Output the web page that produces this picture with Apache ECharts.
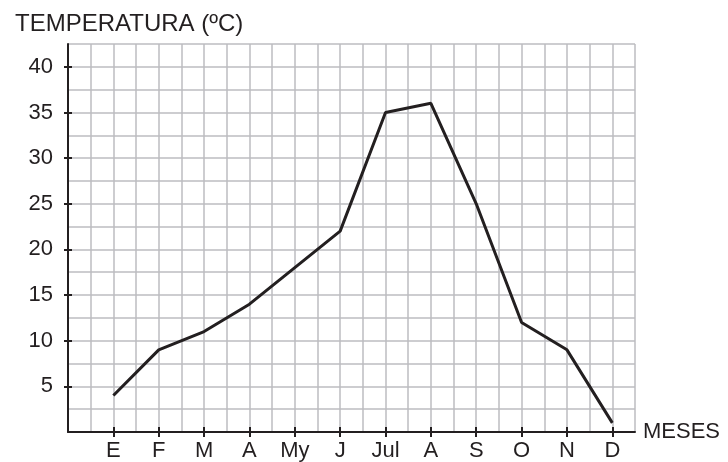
<!DOCTYPE html>
<html>
<head>
<meta charset="utf-8">
<script src="https://cdn.jsdelivr.net/npm/echarts@6/dist/echarts.min.js"></script>
<style>
  html, body { margin: 0; padding: 0; background: #fff; }
  #chart { width: 728px; height: 462px; }
</style>
</head>
<body>
<div id="chart"></div>
<script>
// meses y temperaturas
const months = ['E', 'F', 'M', 'A', 'My', 'J', 'Jul', 'A', 'S', 'O', 'N', 'D'];
const temps = [4, 9, 11, 14, 18, 22, 35, 36, 25, 12, 9, 1];
const yTicks = [5, 10, 15, 20, 25, 30, 35, 40];
const xTicks = months.map((m, i) => i + 1);

const ink = '#231f20';
const font = 'Liberation Sans, Arial, sans-serif';
const gridLine = { show: true, lineStyle: { color: '#bdbdc1', width: 1.5 } };
const tickStyle = { color: ink, width: 2 };

const chart = echarts.init(document.getElementById('chart'));

// ejes: 0 = cuadrícula, 1 = línea + marcas exteriores + etiquetas, 2 = marcas interiores
function xAxes() {
  const base = { type: 'value', min: 0, max: 12.5, position: 'bottom' };
  return [
    Object.assign({}, base, {
      interval: 0.5, splitLine: gridLine,
      axisLine: { show: false }, axisTick: { show: false }, axisLabel: { show: false }
    }),
    Object.assign({}, base, {
      splitLine: { show: false },
      axisLine: { show: true, lineStyle: { color: ink, width: 2 } },
      axisTick: { show: true, customValues: xTicks, length: 5, lineStyle: tickStyle },
      axisLabel: {
        customValues: xTicks, margin: 8,
        color: ink, fontSize: 22, fontFamily: font,
        formatter: v => months[v - 1] || ''
      },
      name: 'MESES', nameLocation: 'end', nameGap: 8,
      nameTextStyle: { color: ink, fontSize: 22, fontFamily: font, verticalAlign: 'middle' }
    }),
    Object.assign({}, base, {
      splitLine: { show: false }, axisLine: { show: false }, axisLabel: { show: false },
      axisTick: { show: true, inside: true, customValues: xTicks, length: 5, lineStyle: tickStyle }
    })
  ];
}
function yAxes() {
  const base = { type: 'value', min: 0, max: 42.5, position: 'left' };
  return [
    Object.assign({}, base, {
      interval: 2.5, splitLine: gridLine,
      axisLine: { show: false }, axisTick: { show: false }, axisLabel: { show: false }
    }),
    Object.assign({}, base, {
      splitLine: { show: false },
      axisLine: { show: true, lineStyle: { color: ink, width: 2 } },
      axisTick: { show: true, customValues: yTicks, length: 4, lineStyle: tickStyle },
      axisLabel: {
        customValues: yTicks, margin: 15,
        color: ink, fontSize: 22, fontFamily: font
      }
    }),
    Object.assign({}, base, {
      splitLine: { show: false }, axisLine: { show: false }, axisLabel: { show: false },
      axisTick: { show: true, inside: true, customValues: yTicks, length: 4, lineStyle: tickStyle }
    })
  ];
}

chart.setOption({
  animation: false,
  title: {
    text: 'TEMPERATURA (ºC)', left: 10, top: 7,
    textStyle: { color: ink, fontSize: 24, fontWeight: 'normal', fontFamily: font }
  },
  grid: { left: 68, top: 44, right: 93, bottom: 30 },
  xAxis: xAxes(),
  yAxis: yAxes(),
  series: [{
    type: 'line',
    data: temps.map((t, i) => [i + 1, t]),
    showSymbol: false,
    lineStyle: { color: ink, width: 3 },
    z: 5
  }]
});
</script>
</body>
</html>
